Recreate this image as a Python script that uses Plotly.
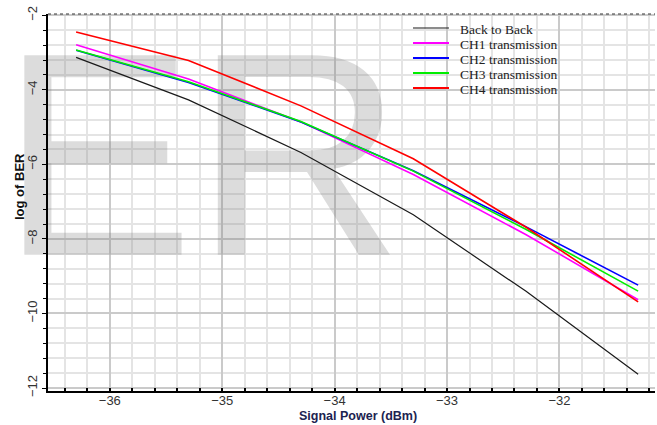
import plotly.graph_objects as go

# ---- data ----
signal_power = [-36.3, -35.3, -34.3, -33.3, -32.3, -31.3]
back_to_back = [-3.13, -4.27, -5.68, -7.35, -9.40, -11.63]
ch1 = [-2.79, -3.71, -4.86, -6.27, -7.88, -9.63]
ch2 = [-2.94, -3.80, -4.86, -6.17, -7.67, -9.24]
ch3 = [-2.93, -3.78, -4.85, -6.18, -7.74, -9.40]
ch4 = [-2.45, -3.21, -4.43, -5.85, -7.68, -9.69]

series_names = ["Back to Back", "CH1 transmission", "CH2 transmission",
                "CH3 transmission", "CH4 transmission"]
series_values = [back_to_back, ch1, ch2, ch3, ch4]
series_colors = ["#1a1a1a", "#ff00ff", "#0000ff", "#00ee00", "#ff0000"]
series_widths = [1.2, 1.6, 1.6, 1.6, 1.6]

x_tick_vals = [-36, -35, -34, -33, -32]
y_tick_vals = [-2, -4, -6, -8, -10, -12]

W, H = 657, 425
ML, MR, MT, MB = 48, 2, 14, 34
PW, PH = W - ML - MR, H - MT - MB

fig = go.Figure()

# watermark "ER" (drawn first so the curves sit on top)
fig.add_trace(go.Scatter(
    x=[-35.18], y=[-10.37], mode="text", text=["ER"],
    textposition="top center",
    textfont=dict(family="Liberation Sans", size=290, color="rgba(128,128,128,0.28)"),
    cliponaxis=False, showlegend=False, hoverinfo="skip"))

for name, vals, col, w in zip(series_names, series_values, series_colors, series_widths):
    fig.add_trace(go.Scatter(x=signal_power, y=vals, mode="lines", name=name,
                             line=dict(color=col, width=w), showlegend=False))

def px_x(p):
    return (p - ML) / PW

def px_y(p):
    return (H - MB - p) / PH

# custom compact legend (native legend rows are too tall)
for i, (name, col, w) in enumerate(zip(series_names, series_colors, series_widths)):
    ty = 29.5 + 15 * i
    fig.add_shape(type="line", xref="paper", yref="paper",
                  x0=px_x(413), x1=px_x(449), y0=px_y(ty - 1.5), y1=px_y(ty - 1.5),
                  line=dict(color=col, width=1.2 if i == 0 else 2.2))
    fig.add_annotation(xref="paper", yref="paper", x=px_x(458), y=px_y(ty),
                       xanchor="left", yanchor="middle", showarrow=False, text=name,
                       font=dict(family="Liberation Serif", size=13.5, color="#222222"))

# top dotted frame line
fig.add_shape(type="line", xref="paper", yref="paper", x0=0, x1=1, y0=1, y1=1,
              line=dict(color="#333333", width=1, dash="dot"))

# axis titles
fig.add_annotation(xref="paper", yref="paper", x=px_x(358), y=px_y(425),
                   xanchor="center", yanchor="bottom", showarrow=False,
                   text="<b>Signal Power (dBm)</b>",
                   font=dict(family="Liberation Sans", size=12.5, color="#1c2350"))
fig.add_annotation(xref="paper", yref="paper", x=px_x(19), y=px_y(187),
                   xanchor="center", yanchor="middle", showarrow=False, textangle=-90,
                   text="<b>log of BER</b>",
                   font=dict(family="Liberation Sans", size=13, color="#111111"))

fig.update_layout(
    width=W, height=H,
    margin=dict(l=ML, r=MR, t=MT, b=MB),
    paper_bgcolor="white", plot_bgcolor="white",
    showlegend=False,
)
fig.update_xaxes(
    range=[-36.55, -31.15], tickvals=x_tick_vals,
    ticks="inside", ticklen=3, tickcolor="black", tickwidth=1.5,
    ticklabelstandoff=-3,
    showline=True, linecolor="black", linewidth=1.5,
    showgrid=True, gridcolor="#cacaca", gridwidth=1.5,
    zeroline=False,
    tickfont=dict(family="Liberation Sans", size=13, color="#333333"),
    minor=dict(dtick=0.2, tick0=-36, showgrid=True, gridcolor="#e4e4e4", gridwidth=1.5,
               ticks="inside", ticklen=3, tickcolor="black"),
)
fig.update_yaxes(
    range=[-12.08, -1.965], tickvals=y_tick_vals,
    ticks="outside", ticklen=4, tickcolor="black", tickwidth=1,
    showline=True, linecolor="black", linewidth=1.5,
    showgrid=True, gridcolor="#cacaca", gridwidth=1.5,
    zeroline=False, tickangle=-90,
    tickfont=dict(family="Liberation Sans", size=13, color="#333333"),
    minor=dict(dtick=0.4, tick0=-2, showgrid=True, gridcolor="#e4e4e4", gridwidth=1.5,
               ticks="outside", ticklen=3, tickcolor="black"),
)

fig.write_html("out.html", config={"displayModeBar": False},
               post_script="document.body.style.margin='0';")
